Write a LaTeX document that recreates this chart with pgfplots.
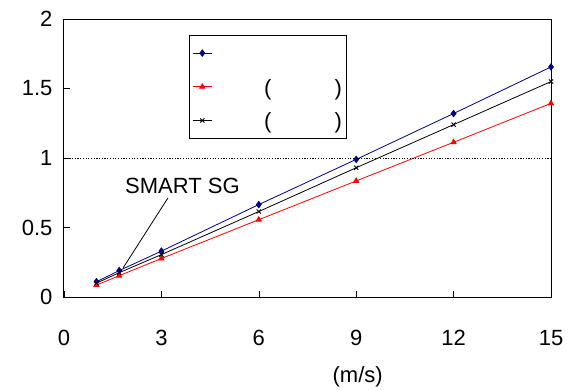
\documentclass[border=0pt]{standalone}
\usepackage{fontspec}
\setmainfont{Liberation Sans}
\usepackage{pgfplots}
\pgfplotsset{compat=1.18}
\definecolor{navyb}{RGB}{0,0,128}
\begin{document}
\begin{tikzpicture}
\begin{axis}[
  name=ax,
  scale only axis,
  width=487pt, height=278pt,
  xmin=0, xmax=15, ymin=0, ymax=2,
  xtick={0,3,6,9,12,15},
  ytick={0,0.5,1,1.5,2},
  yticklabels={0,0.5,1,1.5,2},
  tick align=inside,
  xtick pos=bottom, ytick pos=left,
  major tick length=6pt,
  axis line style={black, line width=1pt},
  every tick/.style={black, line width=0.6pt},
  font=\fontsize{22}{26}\selectfont,
  /pgf/number format/assume math mode=true,
  xticklabel style={yshift=-30pt},
  yticklabel style={xshift=-8pt},
  xlabel={(m/s)},
  xlabel style={at={(axis description cs:0.603,0)}, anchor=center, yshift=-80pt},
  legend style={at={(0.2567,0.943)}, anchor=north west, draw=black, line width=0.8pt,
    font=\fontsize{22}{26}\selectfont, inner xsep=3pt, inner ysep=6pt,
    row sep=10pt, cells={anchor=west}},
  legend image code/.code={\draw[mark repeat=2,mark phase=2,#1] plot coordinates {(0pt,0pt)(9.5pt,0pt)(19pt,0pt)};},
  clip=false,
]
\addplot[navyb, line width=0.8pt, mark=diamond*, mark size=3.2pt, mark options={fill=navyb,draw=navyb}]
  coordinates {(1,0.11)(1.7,0.19)(3,0.33)(6,0.665)(9,0.99)(12,1.32)(15,1.655)};
\addplot[red, line width=0.8pt, mark=triangle*, mark size=3pt, mark options={fill=red,draw=red}]
  coordinates {(1,0.086)(1.7,0.153)(3,0.277)(6,0.556)(9,0.835)(12,1.113)(15,1.393)};
\addplot[black, line width=0.8pt, mark=x, mark size=3pt, mark options={draw=black}]
  coordinates {(1,0.10)(1.7,0.175)(3,0.305)(6,0.615)(9,0.93)(12,1.24)(15,1.55)};
\addplot[black, line width=0.6pt, dash pattern=on 1.2pt off 1.5pt, forget plot]
  coordinates {(0,1)(15,1)};
\legend{\strut\hspace{124pt}, \strut\hspace{50pt}(\hspace{63pt}), \strut\hspace{50pt}(\hspace{63pt})}
\draw[black, line width=0.8pt] (axis cs:3.20,0.712) -- (axis cs:1.82,0.209);
\node[anchor=base west, inner sep=0pt] at (axis cs:1.88,0.748) {SMART SG};
\end{axis}
\pgfresetboundingbox
\path[use as bounding box] ([shift={(-64pt,-92pt)}]ax.south west) rectangle ([shift={(19pt,19pt)}]ax.north east);
\end{tikzpicture}
\end{document}
